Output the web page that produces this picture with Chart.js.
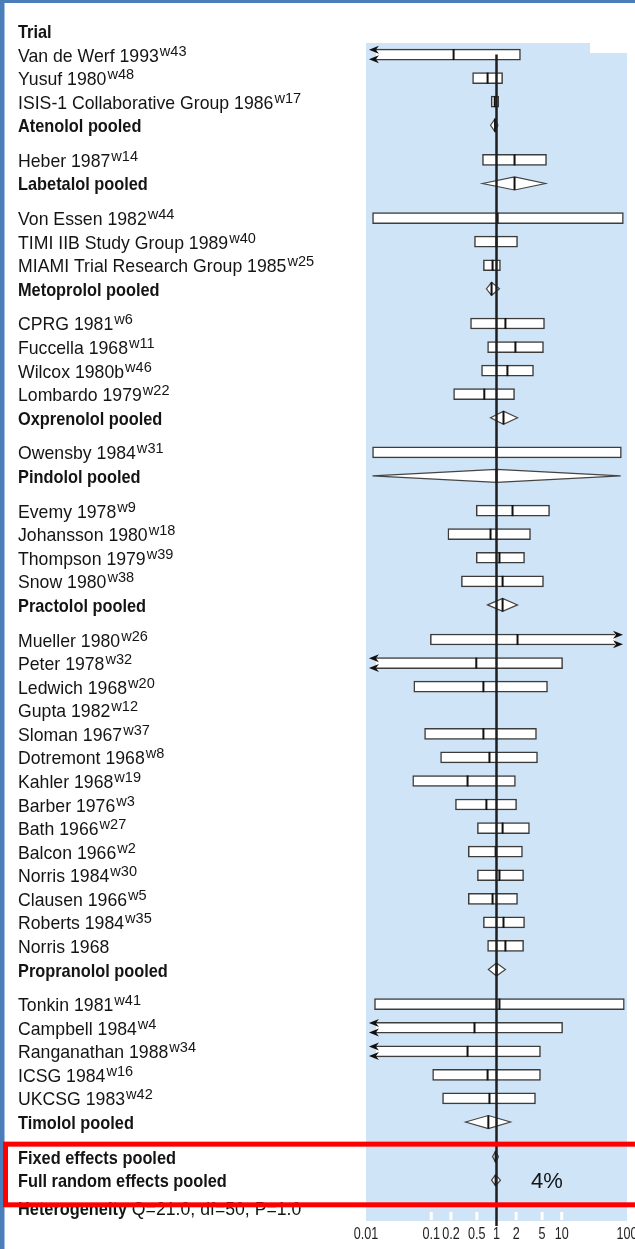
<!DOCTYPE html>
<html>
<head>
<meta charset="utf-8">
<title>Beta blocker trials - forest plot</title>
<script src="https://cdn.jsdelivr.net/npm/chart.js@4.4.0/dist/chart.umd.min.js"></script>
<style>
  html, body { margin: 0; padding: 0; background: #fff; }
</style>
</head>
<body>
<canvas id="chart" width="635" height="1249"></canvas>
<script>
'use strict';

/*** DATA ***/

// one entry per row, top to bottom
var rowLabels = ['Van de Werf 1993', 'Yusuf 1980', 'ISIS-1 Collaborative Group 1986', 'Atenolol pooled',
  'Heber 1987', 'Labetalol pooled',
  'Von Essen 1982', 'TIMI IIB Study Group 1989', 'MIAMI Trial Research Group 1985', 'Metoprolol pooled',
  'CPRG 1981', 'Fuccella 1968', 'Wilcox 1980b', 'Lombardo 1979', 'Oxprenolol pooled',
  'Owensby 1984', 'Pindolol pooled',
  'Evemy 1978', 'Johansson 1980', 'Thompson 1979', 'Snow 1980', 'Practolol pooled',
  'Mueller 1980', 'Peter 1978', 'Ledwich 1968', 'Gupta 1982', 'Sloman 1967', 'Dotremont 1968', 'Kahler 1968',
  'Barber 1976', 'Bath 1966', 'Balcon 1966', 'Norris 1984', 'Clausen 1966', 'Roberts 1984', 'Norris 1968', 'Propranolol pooled',
  'Tonkin 1981', 'Campbell 1984', 'Ranganathan 1988', 'ICSG 1984', 'UKCSG 1983', 'Timolol pooled',
  'Fixed effects pooled', 'Full random effects pooled'];

var rowRefs = ['w43', 'w48', 'w17', '',
  'w14', '',
  'w44', 'w40', 'w25', '',
  'w6', 'w11', 'w46', 'w22', '',
  'w31', '',
  'w9', 'w18', 'w39', 'w38', '',
  'w26', 'w32', 'w20', 'w12', 'w37', 'w8', 'w19', 'w3', 'w27', 'w2', 'w30', 'w5', 'w35', '', '',
  'w41', 'w4', 'w34', 'w16', 'w42', '',
  '', ''];

// odds ratios (estimate and 95% CI); values under 0.01 or over 100 run off the axis
var estimate = [0.22, 0.73, 0.94, 0.95,
  1.89, 1.89,
  1.04, 1.0, 0.87, 0.84,
  1.37, 1.95, 1.47, 0.65, 1.28,
  1.0, 1.0,
  1.76, 0.81, 1.11, 1.24, 1.24,
  2.1, 0.49, 0.63, null, 0.63, 0.78, 0.36, 0.70, 1.24, 0.97, 1.11, 0.87, 1.28, 1.37, 1.0,
  1.11, 0.46, 0.36, 0.73, 0.78, 0.75,
  0.97, 0.97];

var lowerCI = [0.004, 0.43, 0.83, 0.81,
  0.61, 0.61,
  0.0126, 0.46, 0.63, 0.70,
  0.40, 0.73, 0.59, 0.22, 0.81,
  0.0126, 0.0126,
  0.49, 0.18, 0.49, 0.29, 0.73,
  0.097, 0.004, 0.054, null, 0.079, 0.139, 0.052, 0.235, 0.51, 0.37, 0.51, 0.37, 0.63, 0.73, 0.75,
  0.0135, 0.004, 0.004, 0.105, 0.149, 0.335,
  0.87, 0.84];

var upperCI = [2.33, 1.24, 1.08, 1.05,
  5.84, 5.63,
  88, 2.1, 1.15, 1.11,
  5.44, 5.25, 3.69, 1.89, 2.1,
  82, 80,
  6.5, 3.32, 2.69, 5.25, 2.1,
  250, 10.3, 6.05, null, 4.1, 4.25, 1.95, 2.03, 3.2, 2.5, 2.6, 2.1, 2.69, 2.6, 1.37,
  91, 10.3, 4.72, 4.72, 3.96, 1.64,
  1.07, 1.15];

var xTicks = [0.01, 0.1, 0.2, 0.5, 1, 2, 5, 10, 100];
var xTickLabels = ['0.01', '0.1', '0.2', '0.5', '1', '2', '5', '10', '100'];

var heterogeneityLabel = 'Heterogeneity';
var heterogeneityStats = ' Q=21.0, df=50, P=1.0';
var randomShare = '4%';

/*** ROW LAYOUT ***/

var X_MIN = 0.01;
var X_MAX = 100;
var GROUP_GAP = 0.47;   // extra space after each pooled row, in rows
var ARROW_LO = 0.0142;  // where an open-ended CI box stops on the left
var ARROW_HI = 65.5;    // ... and on the right

function isPooled(i) {
  return /pooled$/.test(rowLabels[i]);
}
function isSummary(i) {
  return i >= rowLabels.length - 2;
}

var rowPos = [];
var pos = 0;
for (var i = 0; i < rowLabels.length; i++) {
  if (i > 0 && isPooled(i - 1) && !isSummary(i - 1)) {
    pos += GROUP_GAP;
  }
  rowPos.push(pos);
  pos += 1;
}
var hetPos = pos + 0.17;

// boxes for single trials
var boxData = [];
var boxArrows = [];
var pointData = [];
for (var j = 0; j < rowLabels.length; j++) {
  if (isPooled(j) || lowerCI[j] === null) continue;
  var lo = lowerCI[j] < X_MIN ? ARROW_LO : lowerCI[j];
  var hi = upperCI[j] > X_MAX ? ARROW_HI : upperCI[j];
  boxData.push({ y: rowPos[j], x: [lo, hi] });
  boxArrows.push(lowerCI[j] < X_MIN ? 'left' : (upperCI[j] > X_MAX ? 'right' : ''));
  pointData.push({ x: estimate[j], y: rowPos[j] });
}

/*** HELPERS ***/

var FONT = "'Liberation Sans', Arial, sans-serif";
var INK = '#141414';

// draws text squeezed horizontally, returns the drawn width
function drawText(ctx, str, x, y, font, squeeze, align) {
  ctx.save();
  ctx.font = font;
  var w = ctx.measureText(str).width * squeeze;
  var left = align === 'center' ? x - w / 2 : x;
  ctx.translate(left, y);
  ctx.scale(squeeze, 1);
  ctx.textAlign = 'left';
  ctx.textBaseline = 'alphabetic';
  ctx.fillText(str, 0, 0);
  ctx.restore();
  return w;
}

function arrowHead(ctx, tipX, y, dir) {
  ctx.beginPath();
  ctx.moveTo(tipX, y);
  ctx.lineTo(tipX - dir * 10, y - 4);
  ctx.lineTo(tipX - dir * 7, y);
  ctx.lineTo(tipX - dir * 10, y + 4);
  ctx.closePath();
  ctx.fill();
}

/*** PLUGINS ***/

var backdrop = {
  id: 'backdrop',
  beforeDraw: function(chart) {
    var ctx = chart.ctx;
    var a = chart.chartArea;
    ctx.save();
    ctx.fillStyle = '#ffffff';
    ctx.fillRect(0, 0, chart.width, chart.height);
    ctx.fillStyle = '#cfe4f7';
    ctx.fillRect(a.left, a.top, a.right - a.left, a.bottom - a.top);
    // white tab covering the top right corner
    ctx.fillStyle = '#ffffff';
    ctx.fillRect(590, 20, chart.width - 590, 33);
    // window frame
    ctx.fillStyle = '#4a7ebb';
    ctx.fillRect(0, 0, chart.width, 3);
    ctx.fillRect(0, 0, 4.5, chart.height);
    // little white ticks inside the bottom of the plot
    var xs = chart.scales.x;
    ctx.fillStyle = '#ffffff';
    xTicks.forEach(function(v) {
      if (v === X_MIN || v === 1 || v === X_MAX) return;
      var px = xs.getPixelForValue(v);
      ctx.fillRect(px - 1.5, a.bottom - 9, 3, 8);
    });
    ctx.restore();
  }
};

var forestMarks = {
  id: 'forestMarks',
  afterDatasetsDraw: function(chart) {
    var ctx = chart.ctx;
    var a = chart.chartArea;
    var xs = chart.scales.x;
    var ys = chart.scales.y;
    ctx.save();

    // arrows on open-ended intervals
    ctx.fillStyle = '#111';
    boxData.forEach(function(d, k) {
      var py = ys.getPixelForValue(d.y);
      if (boxArrows[k] === 'left') {
        var lx = xs.getPixelForValue(d.x[0]) - 7;
        arrowHead(ctx, lx, py - 4.8, -1);
        arrowHead(ctx, lx, py + 4.8, -1);
      } else if (boxArrows[k] === 'right') {
        var rx = xs.getPixelForValue(d.x[1]) + 8;
        arrowHead(ctx, rx, py - 4.8, 1);
        arrowHead(ctx, rx, py + 4.8, 1);
      }
    });

    // diamonds for pooled estimates
    for (var i = 0; i < rowLabels.length; i++) {
      if (!isPooled(i)) continue;
      var y = ys.getPixelForValue(rowPos[i]);
      var h = isSummary(i) ? 5.5 : 6.5;
      var xl = xs.getPixelForValue(lowerCI[i]);
      var xh = xs.getPixelForValue(upperCI[i]);
      var xp = xs.getPixelForValue(estimate[i]);
      ctx.beginPath();
      ctx.moveTo(xl, y);
      ctx.lineTo(xp, y - h);
      ctx.lineTo(xh, y);
      ctx.lineTo(xp, y + h);
      ctx.closePath();
      ctx.fillStyle = '#ffffff';
      ctx.fill();
      ctx.strokeStyle = '#444';
      ctx.lineWidth = 1.2;
      ctx.stroke();
      ctx.beginPath();
      ctx.moveTo(xp, y - h);
      ctx.lineTo(xp, y + h);
      ctx.strokeStyle = '#111';
      ctx.lineWidth = 2;
      ctx.stroke();
    }

    // line of no effect
    var x1 = xs.getPixelForValue(1);
    ctx.beginPath();
    ctx.moveTo(x1, ys.getPixelForValue(rowPos[0]));
    ctx.lineTo(x1, a.bottom + 5);
    ctx.strokeStyle = '#1e1e1e';
    ctx.lineWidth = 2.5;
    ctx.stroke();

    // left column of labels
    ctx.fillStyle = INK;
    drawText(ctx, 'Trial', 18, ys.getPixelForValue(-1) + 7, 'bold 19px ' + FONT, 0.86);
    for (var r = 0; r < rowLabels.length; r++) {
      var ty = ys.getPixelForValue(rowPos[r]) + 7;
      var bold = isPooled(r);
      var w = drawText(ctx, rowLabels[r], 18, ty, (bold ? 'bold ' : '') + '19px ' + FONT, bold ? 0.86 : 0.93);
      if (rowRefs[r]) {
        drawText(ctx, rowRefs[r], 18 + w + 1, ty - 6, '15px ' + FONT, 0.97);
      }
    }
    var hy = ys.getPixelForValue(hetPos) + 7;
    var hw = drawText(ctx, heterogeneityLabel, 18, hy, 'bold 19px ' + FONT, 0.86);
    drawText(ctx, heterogeneityStats, 18 + hw, hy, '19px ' + FONT, 0.93);

    // share of the random effects estimate
    drawText(ctx, randomShare, a.left + 181, ys.getPixelForValue(rowPos[rowPos.length - 1]) + 8, '22px ' + FONT, 1, 'center');

    // x axis labels
    ctx.fillStyle = '#222';
    xTicks.forEach(function(v, k) {
      drawText(ctx, xTickLabels[k], xs.getPixelForValue(v), a.bottom + 18, '17px ' + FONT, 0.74, 'center');
    });

    // red highlight around the pooled results
    var top = ys.getPixelForValue(rowPos[rowPos.length - 2]) - 12.5;
    var bottom = ys.getPixelForValue(hetPos) - 3;
    ctx.strokeStyle = '#ff0000';
    ctx.lineWidth = 5;
    ctx.strokeRect(5.5, top, chart.width + 10, bottom - top);

    ctx.restore();
  }
};

/*** CHART ***/

var ctx = document.getElementById('chart').getContext('2d');
var chart = new Chart(ctx, {
  type: 'bar',
  data: {
    datasets: [{
      type: 'bar',
      label: 'CI',
      order: 2,
      indexAxis: 'y',
      data: boxData,
      backgroundColor: '#ffffff',
      borderColor: '#3c3c3c',
      borderWidth: 1.5,
      borderSkipped: function(c) {
        return boxArrows[c.dataIndex] || false;
      },
      barThickness: 11
    }, {
      type: 'scatter',
      label: 'Estimate',
      order: 1,
      data: pointData,
      showLine: false,
      pointStyle: 'line',
      pointRotation: 90,
      pointRadius: 5.5,
      pointBorderWidth: 2,
      pointBorderColor: '#111',
      pointBackgroundColor: '#111'
    }]
  },
  options: {
    responsive: false,
    devicePixelRatio: 1,
    animation: false,
    events: [],
    layout: { padding: { left: 366, right: 8, top: 43, bottom: 28 } },
    plugins: { legend: { display: false }, tooltip: { enabled: false } },
    scales: {
      x: {
        type: 'logarithmic',
        min: X_MIN,
        max: X_MAX,
        offset: false,
        display: false
      },
      y: {
        type: 'linear',
        reverse: true,
        min: -0.49,
        max: 49.49,
        offset: false,
        bounds: 'data',
        grace: 0,
        display: false
      }
    }
  },
  plugins: [backdrop, forestMarks]
});
</script>
</body>
</html>
